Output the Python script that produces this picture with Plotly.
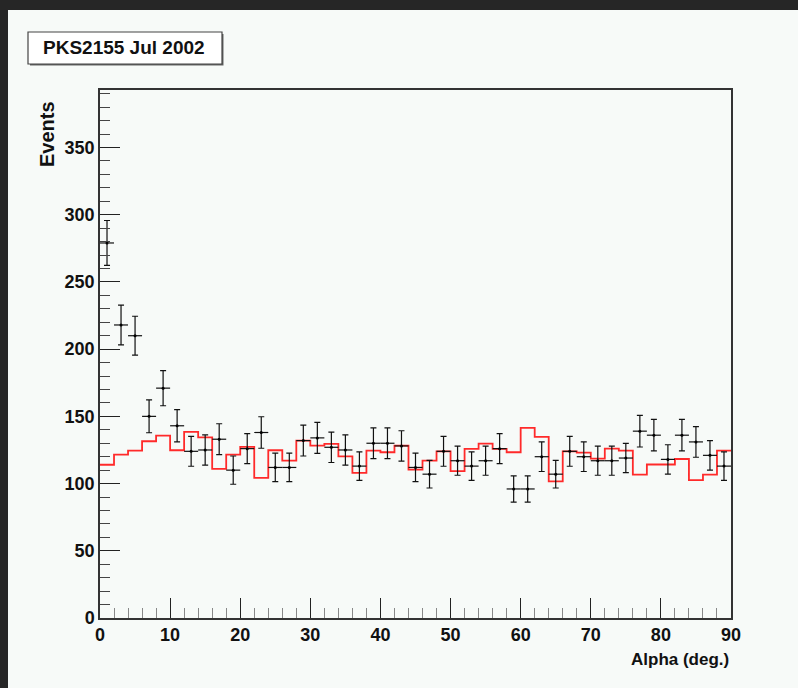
import numpy as np
import plotly.graph_objects as go

# ---- data ----
bin_edges = list(range(0, 92, 2))               # 0..90, 45 bins of 2 deg
bin_centers = [e + 1 for e in bin_edges[:-1]]
on_counts = [279, 218, 210, 150, 171, 143, 124, 125, 133, 110,
             126, 138, 112, 112, 132, 134, 127, 125, 113, 130,
             130, 128, 112, 107, 124, 117, 113, 117, 126, 96,
             96, 120, 107, 124, 120, 117, 117, 119, 139, 136,
             118, 136, 131, 121, 113]
on_errors = [16.7, 14.8, 14.5, 12.2, 13.1, 12.0, 11.1, 11.2, 11.5, 10.5,
             11.2, 11.7, 10.6, 10.6, 11.5, 11.6, 11.3, 11.2, 10.6, 11.4,
             11.4, 11.3, 10.6, 10.3, 11.1, 10.8, 10.6, 10.8, 11.2, 9.8,
             9.8, 11.0, 10.3, 11.1, 11.0, 10.8, 10.8, 10.9, 11.8, 11.7,
             10.9, 11.7, 11.4, 11.0, 10.6]
off_counts = [114, 121.6, 124.5, 131.5, 135.7, 124.8, 138.4, 134.4, 111, 121.6,
              127.3, 104.2, 124.8, 117.1, 132, 128.3, 129.5, 120.3, 108, 124.5,
              123.3, 128.3, 110.4, 117.1, 124, 109.2, 125.8, 129.7, 125.8, 123.3,
              141.4, 134.7, 101.7, 124, 123, 118.6, 126, 124.5, 106.7, 114.2,
              114.2, 118.3, 102.6, 106.7, 124.5]
half_width = [1] * len(bin_centers)
title_text = "PKS2155 Jul 2002"
x_title = "Alpha (deg.)"
y_title = "Events"

FONT = "Liberation Sans, Arial, sans-serif"
BG = "#f7faf8"

fig = go.Figure()

fig.add_trace(go.Scatter(
    x=bin_edges, y=off_counts + [off_counts[-1]],
    mode="lines", line=dict(color="#ff2a2a", width=1.8, shape="hv"),
    hoverinfo="skip", showlegend=False))

fig.add_trace(go.Scatter(
    x=bin_centers, y=on_counts, mode="markers",
    marker=dict(color="black", size=3),
    error_y=dict(type="data", array=on_errors, color="#111", thickness=1.2, width=3),
    error_x=dict(type="data", array=half_width, color="#111", thickness=1.2, width=0),
    showlegend=False))

axis_common = dict(
    showgrid=False, zeroline=False, showline=True, mirror=True,
    linecolor="#333", linewidth=1.5,
    ticks="inside", ticklen=20, tickwidth=1.2, tickcolor="#222",
    tickfont=dict(family=FONT, size=18, color="#111", weight="bold"),
)

fig.update_xaxes(range=[0, 90], dtick=10, tick0=0,
                 minor=dict(ticks="inside", ticklen=10, dtick=2, tickcolor="#888", tickwidth=1.2),
                 **axis_common)
fig.update_yaxes(range=[0, 392.8], dtick=50, tick0=0,
                 minor=dict(ticks="inside", ticklen=10, dtick=10, tickcolor="#444", tickwidth=1.2),
                 **axis_common)

L, R, T, B = 100, 67, 90, 70
W, H = 798, 688
pw, ph = W - L - R, H - T - B

def px(xp):
    return (xp - L) / pw

def py(yp):
    return (H - B - yp) / ph

shapes = [
    dict(type="rect", xref="paper", yref="paper", x0=px(-5), x1=px(W + 5), y0=py(10), y1=py(-5),
         fillcolor="#262626", line=dict(width=0), layer="above"),
    dict(type="rect", xref="paper", yref="paper", x0=px(-5), x1=px(8), y0=py(H + 5), y1=py(-5),
         fillcolor="#262626", line=dict(width=0), layer="above"),
    # title box shadow
    dict(type="rect", xref="paper", yref="paper", x0=px(30), x1=px(223.5), y0=py(65.5), y1=py(34),
         fillcolor="#666", line=dict(width=0), layer="above"),
    dict(type="rect", xref="paper", yref="paper", x0=px(28), x1=px(222), y0=py(64), y1=py(32),
         fillcolor="white", line=dict(color="#444", width=1.2), layer="above"),
]

annotations = [
    dict(text=f"<b>{title_text}</b>", xref="paper", yref="paper",
         x=px(124), y=py(48), xanchor="center", yanchor="middle", showarrow=False,
         font=dict(family=FONT, size=19, color="#111")),
    dict(text=f"<b>{x_title}</b>", xref="paper", yref="paper",
         x=px(731), y=py(659), xanchor="right", yanchor="middle", showarrow=False,
         font=dict(family=FONT, size=17, color="#111")),
    dict(text=f"<b>{y_title}</b>", xref="paper", yref="paper", textangle=-90,
         x=px(47), y=py(99), xanchor="center", yanchor="top", showarrow=False,
         font=dict(family=FONT, size=20, color="#111")),
]

fig.update_layout(
    width=W, height=H, margin=dict(l=L, r=R, t=T, b=B),
    paper_bgcolor=BG, plot_bgcolor=BG,
    shapes=shapes, annotations=annotations,
)

fig.write_html("out.html")
